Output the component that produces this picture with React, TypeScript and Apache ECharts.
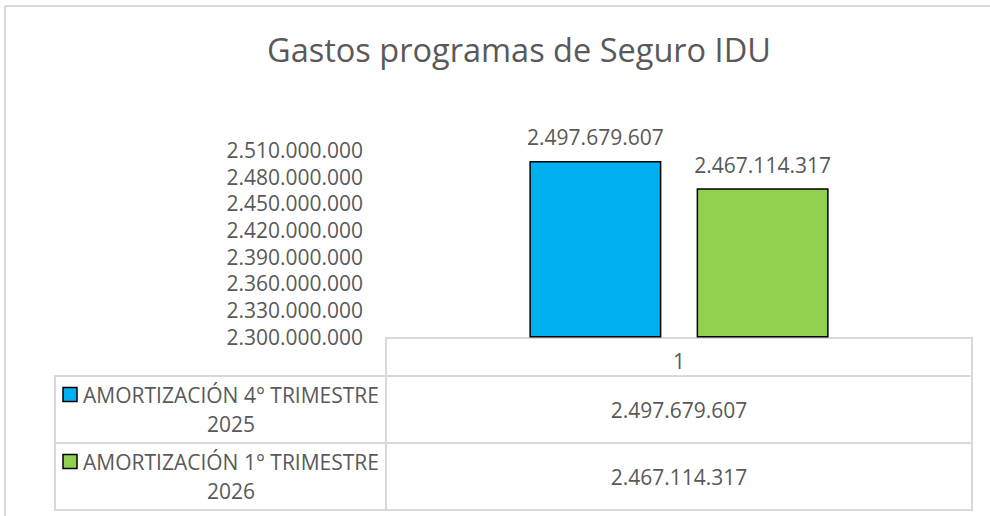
import React, { useEffect, useRef } from "react";
import * as echarts from "echarts";

const TITLE = "Gastos programas de Seguro IDU";
const CATEGORIES = ["1"];
const SERIES_NAMES = ["AMORTIZACIÓN 4° TRIMESTRE 2025", "AMORTIZACIÓN 1° TRIMESTRE 2026"];
const SERIES_VALUES = [2497679607, 2467114317];
const SERIES_COLORS = ["#00B0F0", "#92D050"];
const Y_MIN = 2300000000;
const Y_MAX = 2510000000;
const Y_TICKS = [
  2300000000, 2330000000, 2360000000, 2390000000, 2420000000, 2450000000, 2480000000, 2510000000,
];

const FONT = "'Open Sans', 'Noto Sans', sans-serif";
const TEXT_COLOR = "#595959";
const LINE_COLOR = "#d9d9d9";

const fmt = (v: number) => Math.round(v).toString().replace(/\B(?=(\d{3})+(?!\d))/g, ".");
const wrapName = (n: string) => {
  const i = n.lastIndexOf(" ");
  return i > 0 ? n.slice(0, i) + "\n" + n.slice(i + 1) : n;
};

export default function App() {
  const ref = useRef<HTMLDivElement>(null);
  useEffect(() => {
    if (!ref.current) return;
    const chart = echarts.init(ref.current, undefined, { renderer: "svg" });

    const tableLeft = 55;
    const colX = 386;
    const tableRight = 972;
    const headTop = 338;
    const headBottom = 376;
    const rowH = 67;

    const graphics: any[] = [
      {
        type: "line",
        z: -10,
        shape: { x1: 5, y1: 6, x2: 990, y2: 6 },
        style: { stroke: LINE_COLOR, lineWidth: 2 },
      },
      {
        type: "line",
        z: -10,
        shape: { x1: 5, y1: 6, x2: 5, y2: 516 },
        style: { stroke: LINE_COLOR, lineWidth: 2 },
      },
      {
        type: "rect",
        z: -5,
        shape: { x: colX, y: headTop, width: tableRight - colX, height: headBottom - headTop },
        style: { fill: "none", stroke: LINE_COLOR, lineWidth: 2 },
      },
    ];
    SERIES_NAMES.forEach((name, i) => {
      const top = headBottom + i * rowH;
      const cy = top + rowH / 2;
      graphics.push({
        type: "rect",
        z: -5,
        shape: { x: tableLeft, y: top, width: tableRight - tableLeft, height: rowH },
        style: { fill: "none", stroke: LINE_COLOR, lineWidth: 2 },
      });
      graphics.push({
        type: "line",
        z: -5,
        shape: { x1: colX, y1: top, x2: colX, y2: top + rowH },
        style: { stroke: LINE_COLOR, lineWidth: 2 },
      });
      graphics.push({
        type: "rect",
        shape: { x: 63, y: cy - 22, width: 14, height: 14 },
        style: { fill: SERIES_COLORS[i], stroke: "#000", lineWidth: 1.5 },
      });
      graphics.push({
        type: "text",
        style: {
          text: wrapName(name),
          x: 231,
          y: cy,
          fill: TEXT_COLOR,
          fontSize: 21,
          fontFamily: FONT,
          lineHeight: 29,
          align: "center",
          textAlign: "center",
          verticalAlign: "middle",
          textVerticalAlign: "middle",
        },
      });
      graphics.push({
        type: "text",
        style: {
          text: fmt(SERIES_VALUES[i]),
          x: (colX + tableRight) / 2,
          y: cy,
          fill: TEXT_COLOR,
          fontSize: 21,
          fontFamily: FONT,
          align: "center",
          textAlign: "center",
          verticalAlign: "middle",
          textVerticalAlign: "middle",
        },
      });
    });

    chart.setOption({
      animation: false,
      backgroundColor: "#ffffff",
      title: {
        text: TITLE,
        left: 514,
        top: 28,
        textAlign: "center",
        textStyle: { fontSize: 32.5, fontWeight: "normal", color: TEXT_COLOR, fontFamily: FONT },
      },
      grid: { left: colX, right: 990 - tableRight, top: 150, bottom: 516 - 336.7, containLabel: false },
      xAxis: {
        type: "category",
        data: CATEGORIES,
        axisLine: { show: false },
        axisTick: { show: false },
        axisLabel: { fontSize: 21, color: TEXT_COLOR, fontFamily: FONT, margin: 14 },
      },
      yAxis: {
        type: "value",
        min: Y_MIN,
        max: Y_MAX,
        axisLine: { show: false },
        axisTick: { show: false },
        splitLine: { show: false },
        axisLabel: {
          customValues: Y_TICKS,
          formatter: (v: number) => fmt(v),
          fontSize: 21,
          color: TEXT_COLOR,
          fontFamily: FONT,
          margin: 23,
        },
      },
      series: SERIES_NAMES.map((name, i) => ({
        type: "bar",
        name,
        data: [SERIES_VALUES[i]],
        barWidth: 132,
        barGap: "26.7%",
        itemStyle: { color: SERIES_COLORS[i], borderColor: "#000", borderWidth: 1.5 },
        label: {
          show: true,
          position: "top",
          distance: 13,
          formatter: (p: any) => fmt(p.value),
          fontSize: 21,
          color: TEXT_COLOR,
          fontFamily: FONT,
        },
      })),
      graphic: graphics,
    });
    return () => chart.dispose();
  }, []);
  return (
    <div
      ref={ref}
      style={{ position: "fixed", left: 0, top: 0, width: 990, height: 516, background: "#fff" }}
    />
  );
}
